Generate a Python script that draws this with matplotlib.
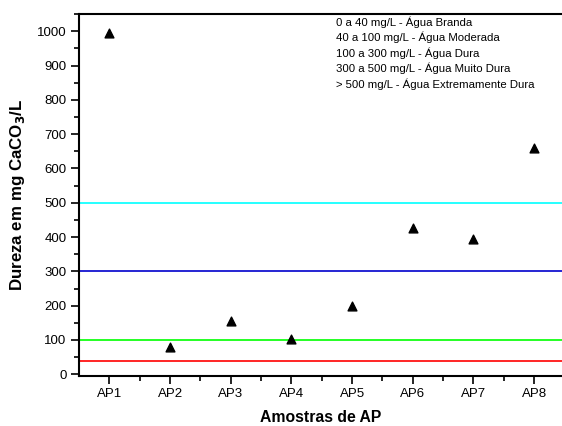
import matplotlib
matplotlib.use("Agg")
import matplotlib.pyplot as plt
from matplotlib.ticker import MultipleLocator, FixedLocator

plt.rcParams['font.family'] = ['Liberation Sans', 'DejaVu Sans']

amostras = ['AP1', 'AP2', 'AP3', 'AP4', 'AP5', 'AP6', 'AP7', 'AP8']
dureza = [995, 80, 155, 103, 198, 427, 393, 661]

limites = [40, 100, 300, 500]
cores_limites = ['#ff0000', '#00ff00', '#0000cc', '#00ffff']

classes = ['0 a 40 mg/L - Água Branda',
           '40 a 100 mg/L - Água Moderada',
           '100 a 300 mg/L - Água Dura',
           '300 a 500 mg/L - Água Muito Dura',
           '> 500 mg/L - Água Extremamente Dura']

fig = plt.figure(figsize=(5.62, 4.26), dpi=100)
ax = fig.add_axes([0.1406, 0.1174, 0.8594, 0.8496])

for lim, cor in zip(limites, cores_limites):
    ax.axhline(lim, color=cor, lw=1.2, zorder=1)

pos = list(range(1, len(amostras) + 1))
ax.scatter(pos, dureza, marker='^', s=40, color='black', zorder=3)

ax.set_xlim(0.5, 8.46)
ax.set_ylim(-5, 1050)
ax.set_xticks(pos)
ax.set_xticklabels(amostras)
ax.xaxis.set_minor_locator(FixedLocator([p + 0.5 for p in pos]))
ax.yaxis.set_major_locator(MultipleLocator(100))
ax.yaxis.set_minor_locator(MultipleLocator(50))

ax.spines['right'].set_visible(False)
for s in ['left', 'bottom', 'top']:
    ax.spines[s].set_linewidth(1.5)

ax.tick_params(which='major', direction='out', length=6, width=1.2,
               labelsize=9.5, pad=3)
ax.tick_params(which='minor', direction='out', length=3.5, width=1.2)

ax.set_xlabel('Amostras de AP', fontsize=11.3, fontweight='bold', labelpad=7)
ax.set_ylabel('Dureza em mg CaCO$_\\mathbf{3}$/L', fontsize=12.2,
              fontweight='bold', labelpad=7)

ax.text(0.532, 0.993, '\n'.join(classes), transform=ax.transAxes,
        fontsize=8.2, va='top', ha='left', linespacing=1.41)

fig.savefig('out.png', dpi=100)
